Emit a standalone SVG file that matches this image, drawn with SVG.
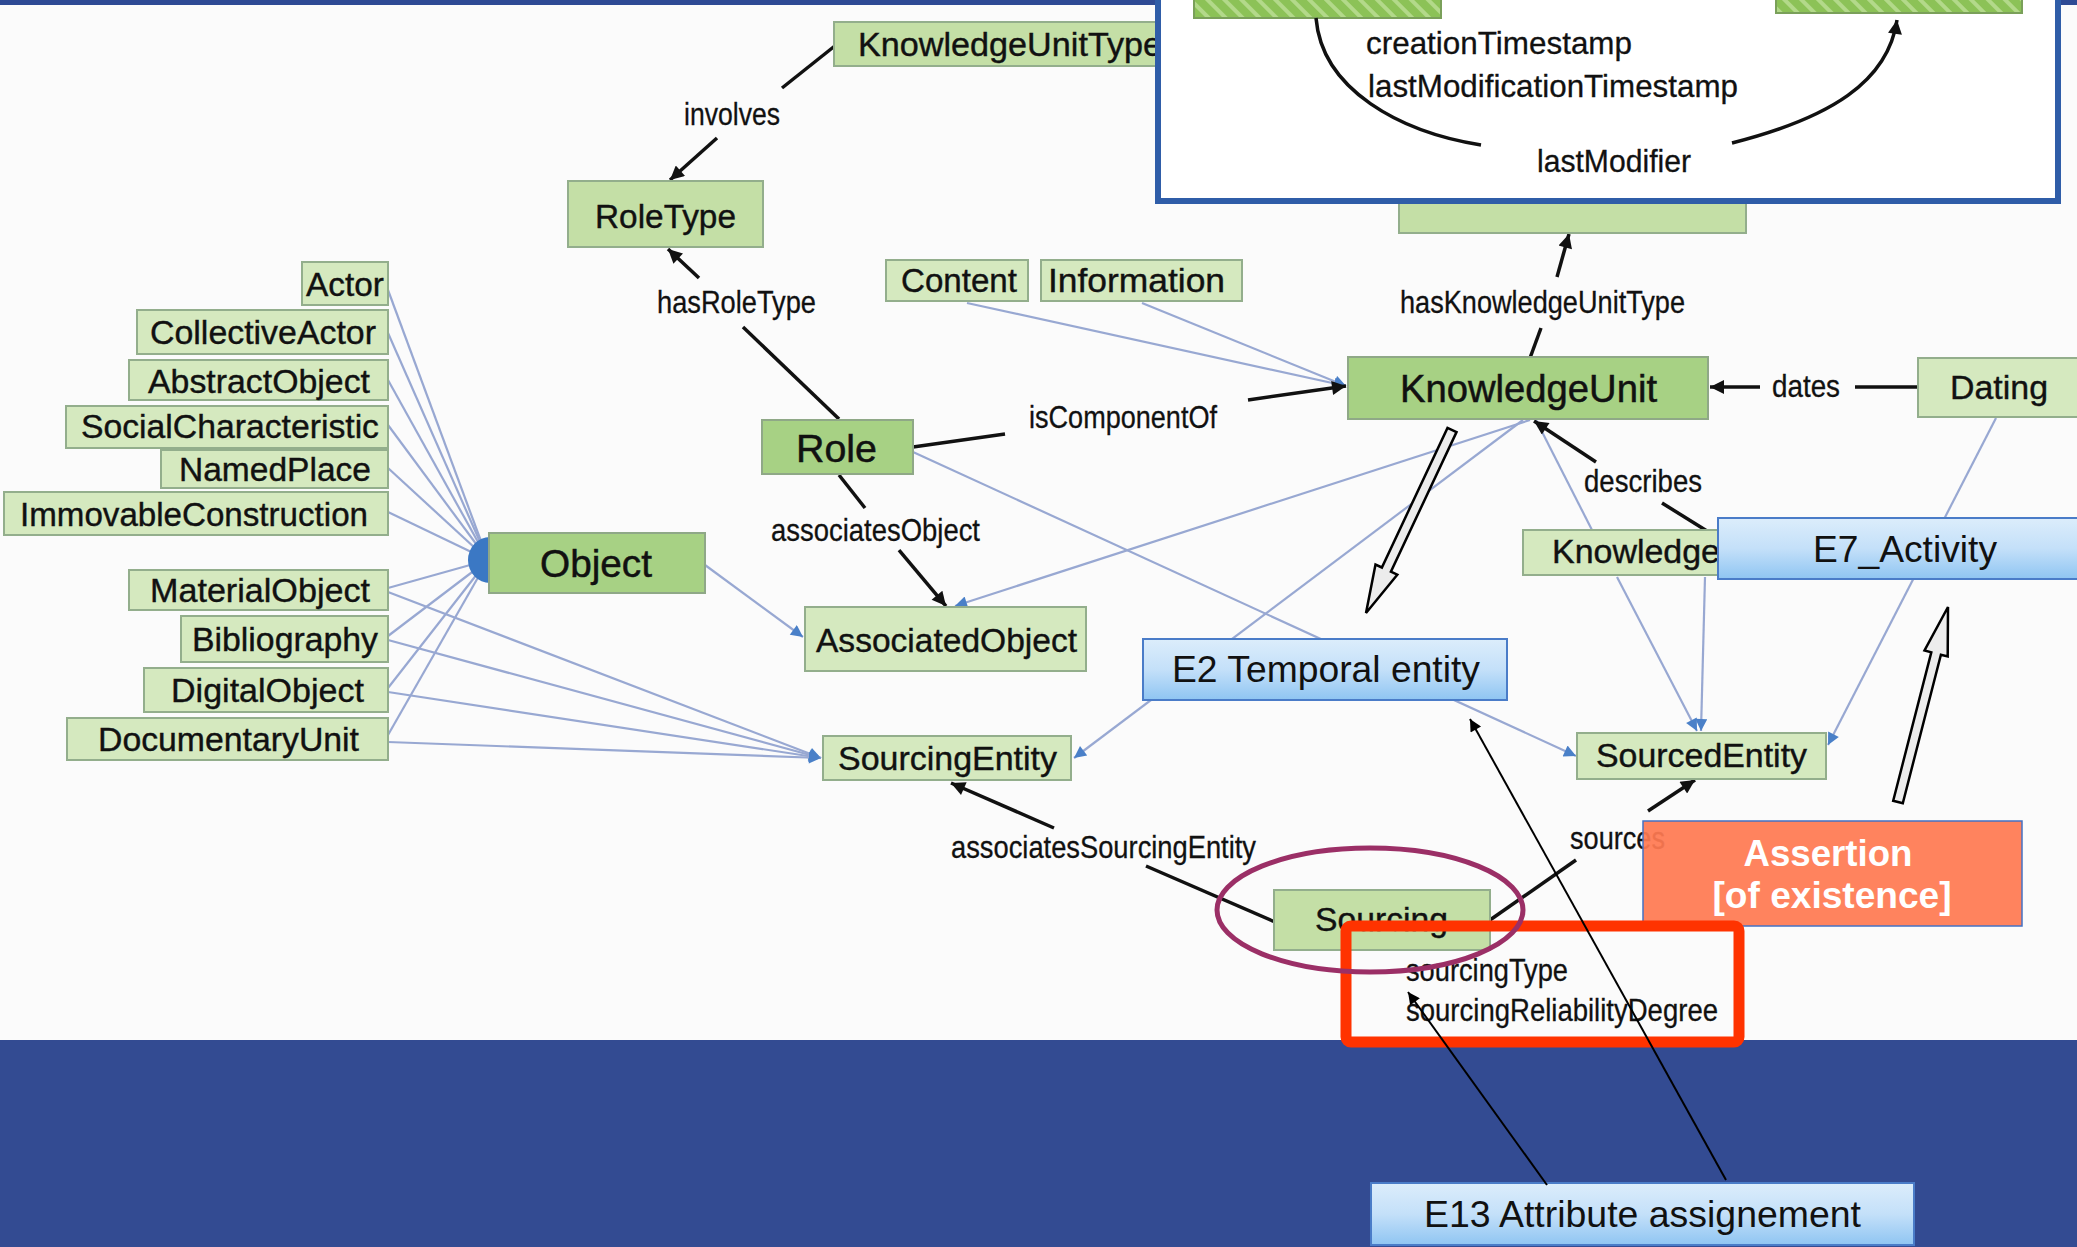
<svg xmlns="http://www.w3.org/2000/svg" width="2077" height="1247" viewBox="0 0 2077 1247">
<style>
text{font-family:"Liberation Sans",Arial,sans-serif;fill:#111}
.n rect{fill:#d5e9bf;stroke:#93ae8c;stroke-width:2}
.nd rect{fill:#a7d184;stroke:#8fa887;stroke-width:2}
.nm rect{fill:#c4dfa6;stroke:#93ae8c;stroke-width:2}
.nt{font-size:34px;stroke:#111;stroke-width:0.4px}
.ntb{font-size:38px;stroke:#111;stroke-width:0.5px}
.lb{font-size:32px;stroke:#111;stroke-width:0.3px}
.blue{stroke:#98a8d2;stroke-width:2.2;fill:none}
.blk{stroke:#111;stroke-width:3.5;fill:none}
.crm rect{fill:url(#gb);stroke:#4a7cc8;stroke-width:2}
.crm text{font-size:36px}
.hollow{fill:#ececec;stroke:#000;stroke-width:2.5;stroke-linejoin:miter}
</style>
<defs>
<marker id="ab" viewBox="0 0 10 10" refX="10" refY="5" markerWidth="5" markerHeight="4" orient="auto" markerUnits="strokeWidth"><path d="M0,0 L10,5 L0,10 z" fill="#111"/></marker>
<marker id="abl" viewBox="0 0 10 10" refX="10" refY="5" markerWidth="14" markerHeight="12" orient="auto" markerUnits="userSpaceOnUse"><path d="M0,0 L10,5 L0,10 z" fill="#4a80c8"/></marker>
<marker id="at" viewBox="0 0 10 10" refX="10" refY="5" markerWidth="20" markerHeight="12" orient="auto" markerUnits="userSpaceOnUse"><path d="M0,0 L10,5 L0,10 z" fill="#000"/></marker>
<linearGradient id="gb" x1="0" y1="0" x2="0" y2="1"><stop offset="0" stop-color="#dcedfb"/><stop offset="0.5" stop-color="#c4e0f9"/><stop offset="1" stop-color="#8fc5f2"/></linearGradient>
<pattern id="hatch" width="12" height="12" patternUnits="userSpaceOnUse" patternTransform="rotate(-45)"><rect width="12" height="12" fill="#8cc257"/><rect width="4" height="12" fill="#b3d98a"/></pattern>
</defs>

<g id="background">
<rect x="0" y="0" width="2077" height="1040" fill="#fbfbfb"/>
<rect x="0" y="0" width="2077" height="5" fill="#2e4a94"/>
<rect x="0" y="1040" width="2077" height="207" fill="#334b92"/>
</g>

<g id="connectors">
<g class="blue">
<line x1="388" y1="290" x2="488" y2="560"/>
<line x1="388" y1="333" x2="488" y2="560"/>
<line x1="388" y1="380" x2="488" y2="560"/>
<line x1="388" y1="425" x2="488" y2="560"/>
<line x1="388" y1="468" x2="488" y2="560"/>
<line x1="388" y1="512" x2="488" y2="560"/>
<line x1="388" y1="588" x2="488" y2="560"/>
<line x1="388" y1="636" x2="488" y2="560"/>
<line x1="388" y1="688" x2="488" y2="560"/>
<line x1="388" y1="735" x2="488" y2="560"/>
<line x1="388" y1="592" x2="821" y2="758" marker-end="url(#abl)"/>
<line x1="388" y1="640" x2="821" y2="758" marker-end="url(#abl)"/>
<line x1="388" y1="692" x2="821" y2="758" marker-end="url(#abl)"/>
<line x1="388" y1="742" x2="821" y2="758" marker-end="url(#abl)"/>
<line x1="705" y1="565" x2="803" y2="637" marker-end="url(#abl)"/>
<line x1="967" y1="303" x2="1346" y2="386" marker-end="url(#abl)"/>
<line x1="1142" y1="303" x2="1346" y2="386" marker-end="url(#abl)"/>
<line x1="913" y1="452" x2="1576" y2="756" marker-end="url(#abl)"/>
<line x1="1530" y1="420" x2="955" y2="606" marker-end="url(#abl)"/>
<line x1="1523" y1="420" x2="1074" y2="758" marker-end="url(#abl)"/>
<line x1="1536" y1="420" x2="1592" y2="530"/>
<line x1="1617" y1="577" x2="1697" y2="731" marker-end="url(#abl)"/>
<line x1="1705" y1="577" x2="1701" y2="731" marker-end="url(#abl)"/>
<line x1="1996" y1="418" x2="1828" y2="745" marker-end="url(#abl)"/>
</g>
<path d="M490,537 A22,23 0 0,0 490,583 Z" fill="#3b78c4"/>
<g class="blk">
<line x1="836" y1="45" x2="782" y2="88"/>
<line x1="717" y1="138" x2="670" y2="180" marker-end="url(#ab)"/>
<line x1="839" y1="419" x2="743" y2="327"/>
<line x1="699" y1="278" x2="668" y2="249" marker-end="url(#ab)"/>
<line x1="913" y1="447" x2="1005" y2="434"/>
<line x1="1248" y1="400" x2="1346" y2="386" marker-end="url(#ab)"/>
<line x1="839" y1="475" x2="865" y2="508"/>
<line x1="899" y1="550" x2="946" y2="606" marker-end="url(#ab)"/>
<line x1="1530" y1="358" x2="1541" y2="328"/>
<line x1="1557" y1="277" x2="1569" y2="234" marker-end="url(#ab)"/>
<line x1="1917" y1="387" x2="1855" y2="387"/>
<line x1="1760" y1="387" x2="1710" y2="387" marker-end="url(#ab)"/>
<line x1="1707" y1="531" x2="1662" y2="503"/>
<line x1="1596" y1="462" x2="1534" y2="421" marker-end="url(#ab)"/>
<line x1="1275" y1="922" x2="1146" y2="866"/>
<line x1="1054" y1="828" x2="951" y2="783" marker-end="url(#ab)"/>
<line x1="1490" y1="920" x2="1576" y2="860"/>
<line x1="1648" y1="811" x2="1695" y2="780" marker-end="url(#ab)"/>
</g>
</g>

<g id="node-knowledgeunittype" class="nm"><rect x="834" y="22" width="322" height="44"/><text class="nt" x="858" y="56" font-size="33" textLength="304" lengthAdjust="spacingAndGlyphs">KnowledgeUnitType</text></g>
<g id="node-roletype" class="nm"><rect x="568" y="181" width="195" height="66"/><text class="nt" x="595" y="228" textLength="141" lengthAdjust="spacingAndGlyphs">RoleType</text></g>
<g id="node-content" class="n"><rect x="886" y="260" width="142" height="41"/><text class="nt" x="901" y="292" textLength="116" lengthAdjust="spacingAndGlyphs">Content</text></g>
<g id="node-information" class="n"><rect x="1041" y="260" width="201" height="41"/><text class="nt" x="1048" y="292" textLength="177" lengthAdjust="spacingAndGlyphs">Information</text></g>
<g id="node-actor" class="n"><rect x="302" y="262" width="86" height="43"/><text class="nt" x="306" y="296" textLength="78" lengthAdjust="spacingAndGlyphs">Actor</text></g>
<g id="node-collectiveactor" class="n"><rect x="137" y="310" width="251" height="44"/><text class="nt" x="150" y="344" textLength="226" lengthAdjust="spacingAndGlyphs">CollectiveActor</text></g>
<g id="node-abstractobject" class="n"><rect x="129" y="360" width="259" height="40"/><text class="nt" x="148" y="393" textLength="222" lengthAdjust="spacingAndGlyphs">AbstractObject</text></g>
<g id="node-socialcharacteristic" class="n"><rect x="66" y="406" width="322" height="42"/><text class="nt" x="81" y="438" textLength="298" lengthAdjust="spacingAndGlyphs">SocialCharacteristic</text></g>
<g id="node-namedplace" class="n"><rect x="161" y="450" width="227" height="38"/><text class="nt" x="179" y="481" textLength="192" lengthAdjust="spacingAndGlyphs">NamedPlace</text></g>
<g id="node-immovableconstruction" class="n"><rect x="4" y="492" width="384" height="43"/><text class="nt" x="20" y="526" textLength="348" lengthAdjust="spacingAndGlyphs">ImmovableConstruction</text></g>
<g id="node-object" class="nd"><rect x="489" y="533" width="216" height="60"/><text class="ntb" x="540" y="577" textLength="112" lengthAdjust="spacingAndGlyphs">Object</text></g>
<g id="node-materialobject" class="n"><rect x="129" y="570" width="259" height="40"/><text class="nt" x="150" y="602" textLength="220" lengthAdjust="spacingAndGlyphs">MaterialObject</text></g>
<g id="node-bibliography" class="n"><rect x="181" y="616" width="207" height="46"/><text class="nt" x="192" y="651" textLength="186" lengthAdjust="spacingAndGlyphs">Bibliography</text></g>
<g id="node-digitalobject" class="n"><rect x="144" y="668" width="244" height="44"/><text class="nt" x="171" y="702" textLength="193" lengthAdjust="spacingAndGlyphs">DigitalObject</text></g>
<g id="node-documentaryunit" class="n"><rect x="67" y="718" width="321" height="42"/><text class="nt" x="98" y="751" textLength="261" lengthAdjust="spacingAndGlyphs">DocumentaryUnit</text></g>
<g id="node-role" class="nd"><rect x="762" y="420" width="151" height="54"/><text class="ntb" x="796" y="462" font-size="39" textLength="81" lengthAdjust="spacingAndGlyphs">Role</text></g>
<g id="node-associatedobject" class="n"><rect x="805" y="607" width="281" height="64"/><text class="nt" x="816" y="652" textLength="261" lengthAdjust="spacingAndGlyphs">AssociatedObject</text></g>
<g id="node-sourcingentity" class="n"><rect x="823" y="736" width="248" height="44"/><text class="nt" x="838" y="770" textLength="219" lengthAdjust="spacingAndGlyphs">SourcingEntity</text></g>
<g id="node-knowledgeunit" class="nd"><rect x="1348" y="357" width="360" height="62"/><text class="ntb" x="1400" y="402" textLength="257" lengthAdjust="spacingAndGlyphs">KnowledgeUnit</text></g>
<g id="node-dating" class="n"><rect x="1918" y="358" width="162" height="59"/><text class="nt" x="1950" y="399" textLength="98" lengthAdjust="spacingAndGlyphs">Dating</text></g>
<g id="node-hidden" class="nm"><rect x="1399" y="196" width="347" height="37"/></g>
<g id="node-knowledge" class="n"><rect x="1523" y="530" width="195" height="45"/><text class="nt" x="1552" y="563" textLength="168" lengthAdjust="spacingAndGlyphs">Knowledge</text></g>
<g id="node-sourcedentity" class="n"><rect x="1577" y="733" width="249" height="46"/><text class="nt" x="1596" y="767" textLength="211" lengthAdjust="spacingAndGlyphs">SourcedEntity</text></g>
<g id="node-sourcing" class="nm"><rect x="1274" y="890" width="216" height="60"/><text class="nt" x="1315" y="931" textLength="133" lengthAdjust="spacingAndGlyphs">Sourcing</text></g>

<g id="labels">
<text class="lb" x="684" y="125" textLength="96" lengthAdjust="spacingAndGlyphs">involves</text>
<text class="lb" x="657" y="313" textLength="159" lengthAdjust="spacingAndGlyphs">hasRoleType</text>
<text class="lb" x="1029" y="428" textLength="188" lengthAdjust="spacingAndGlyphs">isComponentOf</text>
<text class="lb" x="771" y="541" textLength="209" lengthAdjust="spacingAndGlyphs">associatesObject</text>
<text class="lb" x="1400" y="313" textLength="285" lengthAdjust="spacingAndGlyphs">hasKnowledgeUnitType</text>
<text class="lb" x="1772" y="397" textLength="68" lengthAdjust="spacingAndGlyphs">dates</text>
<text class="lb" x="1584" y="492" textLength="118" lengthAdjust="spacingAndGlyphs">describes</text>
<text class="lb" x="951" y="858" textLength="305" lengthAdjust="spacingAndGlyphs">associatesSourcingEntity</text>
<text class="lb" x="1570" y="849" textLength="95" lengthAdjust="spacingAndGlyphs">sources</text>
<text class="lb" x="1406" y="981" textLength="162" lengthAdjust="spacingAndGlyphs">sourcingType</text>
<text class="lb" x="1406" y="1021" textLength="312" lengthAdjust="spacingAndGlyphs">sourcingReliabilityDegree</text>
</g>

<g id="node-e2" class="crm"><rect x="1143" y="639" width="364" height="61"/><text x="1172" y="682" textLength="308" lengthAdjust="spacingAndGlyphs">E2 Temporal entity</text></g>
<g id="node-e7" class="crm"><rect x="1718" y="518" width="365" height="61"/><text x="1813" y="562" textLength="184" lengthAdjust="spacingAndGlyphs">E7_Activity</text></g>

<g id="hollow-arrows">
<polygon class="hollow" points="1456.5,432.1 1390.9,571.7 1397.3,574.7 1366,613 1375.5,564.5 1381.9,567.5 1447.5,427.9"/>
<polygon class="hollow" points="1902.8,803.2 1940.9,654.7 1947.7,656.5 1948,607 1924.5,650.5 1931.3,652.3 1893.2,800.8"/>
</g>

<g id="inset">
<rect x="1158" y="-10" width="900" height="211" fill="#ffffff" stroke="#2f5da8" stroke-width="6"/>
<rect x="1194" y="-5" width="247" height="23" fill="url(#hatch)" stroke="#7aa05a" stroke-width="2"/>
<rect x="1776" y="-5" width="246" height="18" fill="url(#hatch)" stroke="#7aa05a" stroke-width="2"/>
<path class="blk" d="M1316,18 C1322,90 1400,132 1481,145"/>
<path class="blk" d="M1732,143 C1830,118 1888,82 1897,20" marker-end="url(#ab)"/>
<text class="lb" x="1366" y="54" textLength="266" lengthAdjust="spacingAndGlyphs">creationTimestamp</text>
<text class="lb" x="1368" y="97" textLength="370" lengthAdjust="spacingAndGlyphs">lastModificationTimestamp</text>
<text class="lb" x="1537" y="172" font-size="33" textLength="154" lengthAdjust="spacingAndGlyphs">lastModifier</text>
</g>

<g id="node-assertion">
<rect x="1643" y="821" width="379" height="105" fill="#ff7a52" fill-opacity="0.93" stroke="#4472c4" stroke-width="1.5"/>
<text x="1828" y="866" text-anchor="middle" font-size="36" font-weight="bold" style="fill:#ffffff" textLength="169" lengthAdjust="spacingAndGlyphs">Assertion</text>
<text x="1832" y="908" text-anchor="middle" font-size="36" font-weight="bold" style="fill:#ffffff" textLength="239" lengthAdjust="spacingAndGlyphs">[of existence]</text>
</g>

<g id="highlights">
<rect x="1346" y="926" width="393" height="116" rx="5" fill="none" stroke="#ff3300" stroke-width="11"/>
<ellipse cx="1370" cy="910" rx="153" ry="62" fill="none" stroke="#9b2f66" stroke-width="5"/>
</g>

<g id="node-e13" class="crm"><rect x="1371" y="1183" width="543" height="62"/><text x="1424" y="1227" textLength="437" lengthAdjust="spacingAndGlyphs">E13 Attribute assignement</text></g>

<g id="e13-connectors" stroke="#000" stroke-width="2" fill="none">
<line x1="1547" y1="1185" x2="1408" y2="992" marker-end="url(#at)"/>
<line x1="1726" y1="1180" x2="1470" y2="719" marker-end="url(#at)"/>
</g>
</svg>
